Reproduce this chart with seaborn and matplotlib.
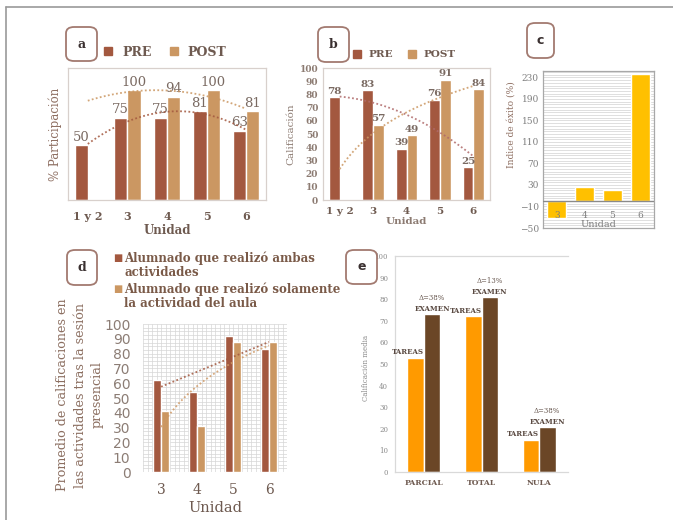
import numpy as np
import pandas as pd
import matplotlib
matplotlib.use("Agg")
import matplotlib.pyplot as plt
import seaborn as sns
from matplotlib.patches import FancyBboxPatch
from matplotlib.lines import Line2D
from matplotlib.ticker import MultipleLocator

# ---- data -------------------------------------------------------------
unidades_ab = ["1 y 2", "3", "4", "5", "6"]
participacion_pre = [50, 75, 75, 81, 63]
participacion_post = [np.nan, 100, 94, 100, 81]
calificacion_pre = [78, 83, 39, 76, 25]
calificacion_post = [np.nan, 57, 49, 91, 84]

unidades_c = ["3", "4", "5", "6"]
indice_exito = [-31, 26, 20, 236]

unidades_d = ["3", "4", "5", "6"]
ambas_actividades = [62, 54, 92, 83]
solo_aula = [41, 31, 88, 88]

tipos_e = ["PARCIAL", "TOTAL", "NULA"]
tareas = [53, 72, 15]
examen = [73, 81, 20.7]
delta_e = [38, 13, 38]

# ---- style -------------------------------------------------------------
sns.set_theme(style="white")
plt.rcParams["font.family"] = ["DejaVu Serif"]

RUST = "#A3583F"
TAN = "#CB9762"
GOLD = "#FFC000"
ORANGE = "#FF9A00"
BROWN = "#6B4626"
TXT = "#6E5A50"
TXT_LIGHT = "#8C7B72"
FRAME = "#D8D0CC"

W, H = 673, 520
fig = plt.figure(figsize=(W / 100, H / 100), dpi=100)
fig.patch.set_facecolor("white")


def rect(x0, y0, x1, y1):
    return [x0 / W, 1 - y1 / H, (x1 - x0) / W, (y1 - y0) / H]


def grouped(ax, cats, s1, s2, names, colors, width):
    df = pd.DataFrame({
        "cat": list(cats) * 2,
        "serie": [names[0]] * len(cats) + [names[1]] * len(cats),
        "valor": list(s1) + list(s2),
    }).dropna()
    sns.barplot(data=df, x="cat", y="valor", hue="serie", order=cats,
                hue_order=names, palette=colors, width=width, saturation=1,
                errorbar=None, legend=False, ax=ax, zorder=2)


def trend(ax, values, kind, color):
    y = np.asarray(values, float)
    x = np.arange(len(y))
    m = ~np.isnan(y)
    xs = np.linspace(0, len(y) - 1, 120)
    if kind == "log":
        coef = np.polyfit(np.log(x[m] + 1), y[m], 1)
        ys = np.polyval(coef, np.log(xs + 1))
    else:
        coef = np.polyfit(x[m], y[m], 2 if kind == "quad" else 1)
        ys = np.polyval(coef, xs)
    ax.plot(xs, ys, color=color, lw=1.3, ls=(0, (1, 1.3)), zorder=3, alpha=0.85)


def tag(letter, x0, y0, x1, y1, family="DejaVu Serif"):
    box = FancyBboxPatch((x0 / W, 1 - y1 / H), (x1 - x0) / W, (y1 - y0) / H,
                         boxstyle="round,pad=0,rounding_size=0.012",
                         transform=fig.transFigure, fc="white", ec="#A27A70",
                         lw=1.3, zorder=10)
    fig.add_artist(box)
    fig.text((x0 + x1) / 2 / W, 1 - (y0 + y1) / 2 / H, letter, ha="center",
             va="center", fontsize=9, fontweight="bold", color="#3A3030",
             family=family, zorder=11)


def frame_spines(ax, color=FRAME, lw=0.9):
    for s in ax.spines.values():
        s.set_visible(True)
        s.set_color(color)
        s.set_linewidth(lw)


def square_handles(names, colors):
    return [Line2D([], [], marker="s", ls="", color=c, markersize=5.5, label=n)
            for n, c in zip(names, colors)]


# outer frame
fig.add_artist(Line2D([6 / W, 1], [1 - 7 / H, 1 - 7 / H], color="#9A9A9A",
                      lw=1.2, transform=fig.transFigure))
fig.add_artist(Line2D([6 / W, 6 / W], [0, 1 - 7 / H], color="#9A9A9A",
                      lw=1.2, transform=fig.transFigure))

# ---- panel a: participación ------------------------------------------
axa = fig.add_axes(rect(68, 68, 266, 200))
grouped(axa, unidades_ab, participacion_pre, participacion_post,
        ["PRE", "POST"], [RUST, TAN], 0.667)
for c in axa.containers:
    axa.bar_label(c, fmt="%.0f", padding=1, fontsize=9.5, color="#7A6A62")
trend(axa, participacion_pre, "quad", RUST)
trend(axa, participacion_post, "quad", TAN)
axa.set_ylim(0, 120)
axa.set_xlim(-0.5, 4.5)
axa.set_yticks([])
frame_spines(axa)
axa.tick_params(axis="x", length=0, pad=8, labelsize=8, labelcolor=TXT)
for t in axa.get_xticklabels():
    t.set_fontweight("bold")
axa.set_xlabel("Unidad", fontsize=8.5, fontweight="bold", color=TXT, labelpad=1)
axa.set_ylabel("% Participación", fontsize=8.5, color="#8E6F62", labelpad=4)
axa.legend(handles=square_handles(["PRE", "POST"], [RUST, TAN]), loc="center",
           bbox_to_anchor=(0.47, 1.12), ncol=2, frameon=False,
           handletextpad=0.1, columnspacing=0.8, borderaxespad=0,
           prop={"size": 9, "weight": "bold"}, labelcolor=TXT)
tag("a", 66, 27, 97, 61)

# ---- panel b: calificación -------------------------------------------
axb = fig.add_axes(rect(323, 68, 490, 200))
grouped(axb, unidades_ab, calificacion_pre, calificacion_post,
        ["PRE", "POST"], [RUST, TAN], 0.64)
for c in axb.containers:
    axb.bar_label(c, fmt="%.0f", padding=1, fontsize=7.5, color="#7A6A62",
                  fontweight="bold")
trend(axb, calificacion_pre, "quad", "#B06A6A")
trend(axb, calificacion_post, "log", TAN)
axb.set_ylim(0, 100)
axb.set_xlim(-0.5, 4.5)
axb.set_yticks(range(0, 101, 10))
frame_spines(axb)
axb.tick_params(axis="both", length=0, labelsize=6.5, labelcolor=TXT_LIGHT)
axb.tick_params(axis="x", pad=5, labelsize=7.5, labelcolor=TXT)
for t in axb.get_xticklabels() + axb.get_yticklabels():
    t.set_fontweight("bold")
axb.set_xlabel("Unidad", fontsize=7.5, fontweight="bold", color=TXT_LIGHT, labelpad=1)
axb.set_ylabel("Calificación", fontsize=7.5, color=TXT_LIGHT, labelpad=3)
axb.legend(handles=square_handles(["PRE", "POST"], [RUST, TAN]), loc="center",
           bbox_to_anchor=(0.47, 1.1), ncol=2, frameon=False,
           handletextpad=0.1, columnspacing=0.8, borderaxespad=0,
           prop={"size": 7.5, "weight": "bold"}, labelcolor=TXT)
tag("b", 318, 27, 349, 62)

# ---- panel c: índice de éxito -----------------------------------------
axc = fig.add_axes(rect(543, 71, 654, 228))
sns.barplot(x=unidades_c, y=indice_exito, color=GOLD, saturation=1,
            width=0.68, errorbar=None, ax=axc, zorder=2)
axc.set_ylim(-50, 242)
axc.set_xlim(-0.5, 3.5)
axc.set_yticks(range(-50, 231, 40))
axc.yaxis.set_minor_locator(MultipleLocator(5))
axc.set_axisbelow(True)
axc.grid(axis="y", which="both", color="#D2D2D2", lw=0.5)
axc.axhline(0, color="#8A8A8A", lw=1, zorder=3)
frame_spines(axc, "#A8A8A8", 0.9)
axc.set_xticks([])
axc.tick_params(axis="y", which="both", length=0, labelsize=6.5,
                labelcolor="#7F7F7F", pad=3)
for i, u in enumerate(unidades_c):
    axc.text(i, -26, u, ha="center", va="center", fontsize=6.5, color="#7F7F7F",
             zorder=4)
axc.text(1.5, -43, "Unidad", ha="center", va="center", fontsize=7,
         color="#7F7F7F", zorder=4)
axc.set_xlabel("")
axc.set_ylabel("Indice de éxito (%)", fontsize=6.5, color="#8E6F62")
axc.yaxis.set_label_coords(-0.25, 0.66)
tag("c", 527, 23, 554, 58, family="DejaVu Sans")

# ---- panel d: promedio tras la sesión presencial -----------------------
axd = fig.add_axes(rect(143, 324, 287, 472))
grouped(axd, unidades_d, ambas_actividades, solo_aula,
        ["ambas", "aula"], [RUST, TAN], 0.42)
trend(axd, ambas_actividades, "lin", RUST)
trend(axd, solo_aula, "log", "#D09A66")
axd.set_ylim(0, 100)
axd.set_xlim(-0.5, 3.5)
axd.set_yticks(range(0, 101, 10))
axd.yaxis.set_minor_locator(MultipleLocator(2.5))
axd.xaxis.set_minor_locator(MultipleLocator(0.125, offset=0.0))
axd.set_axisbelow(True)
axd.grid(which="both", color="#D6D6D6", lw=0.5)
for s in axd.spines.values():
    s.set_visible(False)
axd.tick_params(axis="both", which="both", length=0)
axd.tick_params(axis="y", labelsize=10, labelcolor="#8C7D75", pad=9)
for t in axd.get_yticklabels():
    t.set_family("DejaVu Sans")
axd.tick_params(axis="x", labelsize=10, labelcolor=TXT, pad=8)
axd.set_xlabel("Unidad", fontsize=10.5, color=TXT, labelpad=3)
axd.set_ylabel("")
fig.text(80 / W, 1 - 395 / H,
         "Promedio de calificaciones en\nlas actividades tras la sesión\npresencial",
         rotation=90, ha="center", va="center", multialignment="center",
         fontsize=9.2, color="#8B6E60", linespacing=1.4)
legend_d = [("Alumnado que realizó ambas\nactividades", RUST, 257),
            ("Alumnado que realizó solamente\nla actividad del aula", TAN, 288)]
for label, col, ytop in legend_d:
    fig.text(113 / W, 1 - (ytop + 1) / H, "■", color=col, fontsize=7,
             family="DejaVu Sans", ha="left", va="center")
    fig.text(124 / W, 1 - (ytop - 6) / H, label, color="#7A5A48", fontsize=8.5,
             fontweight="bold", ha="left", va="top", linespacing=1.15)
tag("d", 67, 250, 97, 285)

# ---- panel e: tareas vs examen ------------------------------------------
axe = fig.add_axes(rect(395, 256, 568, 472))
grouped(axe, tipos_e, tareas, examen, ["TAREAS", "EXAMEN"], [ORANGE, BROWN], 0.57)
axe.set_ylim(0, 100)
axe.set_xlim(-0.5, 2.5)
axe.set_yticks(range(0, 101, 10))
for side in ("left", "bottom", "top"):
    axe.spines[side].set_visible(True)
    axe.spines[side].set_color("#D9D9D9")
    axe.spines[side].set_linewidth(0.9)
axe.spines["right"].set_visible(False)
axe.tick_params(axis="both", length=0)
axe.tick_params(axis="y", labelsize=5, labelcolor="#8A8A8A", pad=5)
axe.tick_params(axis="x", labelsize=5.5, labelcolor=TXT, pad=5)
for t in axe.get_xticklabels():
    t.set_fontweight("bold")
axe.set_xlabel("")
axe.set_ylabel("Calificación media", fontsize=5, color="#8A8A8A")
axe.yaxis.set_label_coords(-0.145, 0.48)
bars_t, bars_x = axe.containers[0], axe.containers[1]
for i, (bt, bx) in enumerate(zip(bars_t, bars_x)):
    axe.annotate("TAREAS", (bt.get_x() + bt.get_width(), bt.get_height()),
                 xytext=(0, 1), textcoords="offset points", ha="right",
                 va="bottom", fontsize=5, fontweight="bold", color="#5A4A42")
    axe.annotate("EXAMEN", (bx.get_x() + bx.get_width() / 2, bx.get_height()),
                 xytext=(0, 1), textcoords="offset points", ha="center",
                 va="bottom", fontsize=5, fontweight="bold", color="#5A4A42")
    axe.annotate(f"Δ={delta_e[i]}%", (bx.get_x() + bx.get_width() / 2, bx.get_height()),
                 xytext=(0, 9), textcoords="offset points", ha="center",
                 va="bottom", fontsize=5, color="#6A5A52")
tag("e", 346, 250, 377, 284, family="DejaVu Sans")

fig.savefig("out.png", dpi=100)
